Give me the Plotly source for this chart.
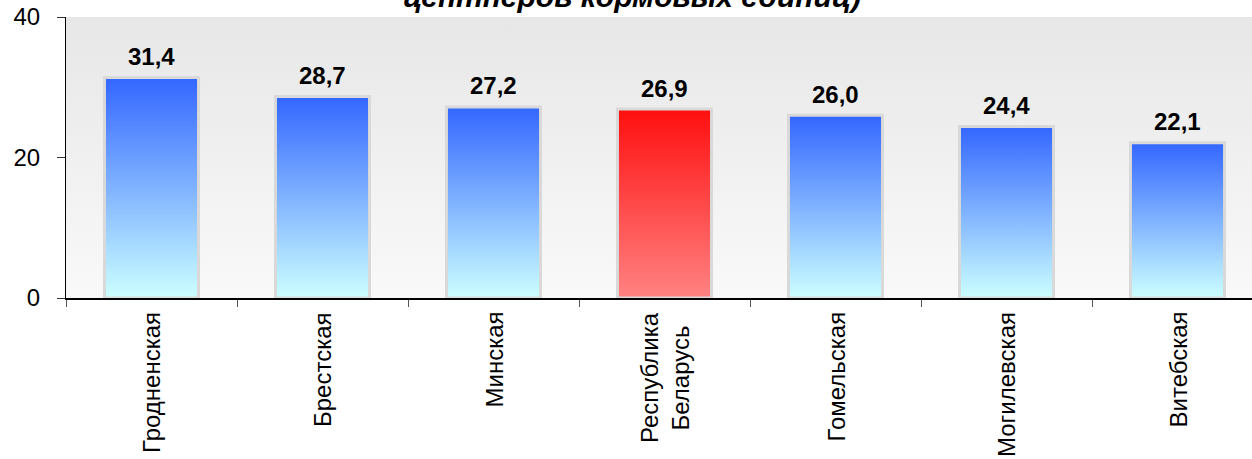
import plotly.graph_objects as go

categories = ["Гродненская", "Брестская", "Минская", "Республика<br>Беларусь",
              "Гомельская", "Могилевская", "Витебская"]
values = [31.4, 28.7, 27.2, 26.9, 26.0, 24.4, 22.1]
value_labels = ["31,4", "28,7", "27,2", "26,9", "26,0", "24,4", "22,1"]
highlight = [False, False, False, True, False, False, False]
y_ticks = [0, 20, 40]
title_text = "центнеров кормовых единиц)"

W, H = 1252, 459
L, T, B = 66, 17, 161
plot_w = W - L
plot_h = H - T - B
cat_px = 171.0
x_max = -0.5 + plot_w / cat_px
half = 0.275

blue_scale = [[0, "#ccffff"], [1, "#3366ff"]]
red_scale = [[0, "#ff8282"], [1, "#ff0f0f"]]

fig = go.Figure()

# plot-area background gradient
fig.add_trace(go.Scatter(
    x=[-0.5, x_max, x_max, -0.5, -0.5], y=[0, 0, 40, 40, 0],
    mode="lines", fill="toself", line=dict(width=0),
    fillgradient=dict(type="vertical", colorscale=[[0, "#f9f9f9"], [1, "#e7e7e7"]]),
    hoverinfo="skip", showlegend=False))

for i, (v, hl) in enumerate(zip(values, highlight)):
    fig.add_trace(go.Scatter(
        x=[i - half, i + half, i + half, i - half, i - half],
        y=[0, 0, v, v, 0],
        mode="lines", fill="toself",
        line=dict(color="#d9d9d9", width=3),
        fillgradient=dict(type="vertical", colorscale=red_scale if hl else blue_scale),
        hoverinfo="skip", showlegend=False))

annotations = []
for i, (v, lab) in enumerate(zip(values, value_labels)):
    annotations.append(dict(
        x=i, y=v, xref="x", yref="y", text="<b>" + lab + "</b>", showarrow=False,
        xanchor="center", yanchor="middle", yshift=21,
        font=dict(family="Liberation Sans, Arial", size=24, color="black")))

for i, c in enumerate(categories):
    annotations.append(dict(
        x=i, y=0, xref="x", yref="y", text=c, showarrow=False, textangle=-90,
        xanchor="center", yanchor="top", yshift=-12, align="center",
        font=dict(family="Liberation Sans, Arial", size=24, color="black")))

annotations.append(dict(
    x=(632 - L) / plot_w, y=1.0, xref="paper", yref="paper",
    text="<b><i>" + title_text + "</i></b>", showarrow=False,
    xanchor="center", yanchor="bottom", yshift=2,
    font=dict(family="Liberation Sans, Arial", size=30, color="black")))

boundary_ticks = [k - 0.5 for k in range(len(categories) + 1)]

fig.update_layout(
    width=W, height=H,
    margin=dict(l=L, r=0, t=T, b=B, pad=0, autoexpand=False),
    paper_bgcolor="white", plot_bgcolor="white",
    showlegend=False,
    annotations=annotations,
    xaxis=dict(range=[-0.5, x_max], tickmode="array", tickvals=boundary_ticks,
               showticklabels=False, ticks="outside", ticklen=7, tickcolor="#555",
               showline=True, linecolor="black", linewidth=1.5, showgrid=False,
               zeroline=False, fixedrange=True, automargin=False),
    xaxis2=dict(range=[-0.5, x_max], overlaying="x", anchor="y", side="bottom",
                tickmode="array", tickvals=boundary_ticks, showticklabels=False,
                ticks="inside", ticklen=7, tickcolor="#555", showline=False,
                showgrid=False, zeroline=False, fixedrange=True, automargin=False),
    yaxis=dict(range=[0, 40], tickmode="array", tickvals=y_ticks,
               ticks="outside", ticklen=8, tickcolor="#333", showline=True,
               linecolor="black", linewidth=1, showgrid=False, zeroline=False,
               ticklabelstandoff=12, automargin=False, ticklabeloverflow="allow",
               tickfont=dict(family="Liberation Sans, Arial", size=24, color="black"),
               fixedrange=True),
)

fig.write_html("out.html", config={"displayModeBar": False},
               post_script="document.body.style.margin='0';document.body.style.overflow='hidden';")
